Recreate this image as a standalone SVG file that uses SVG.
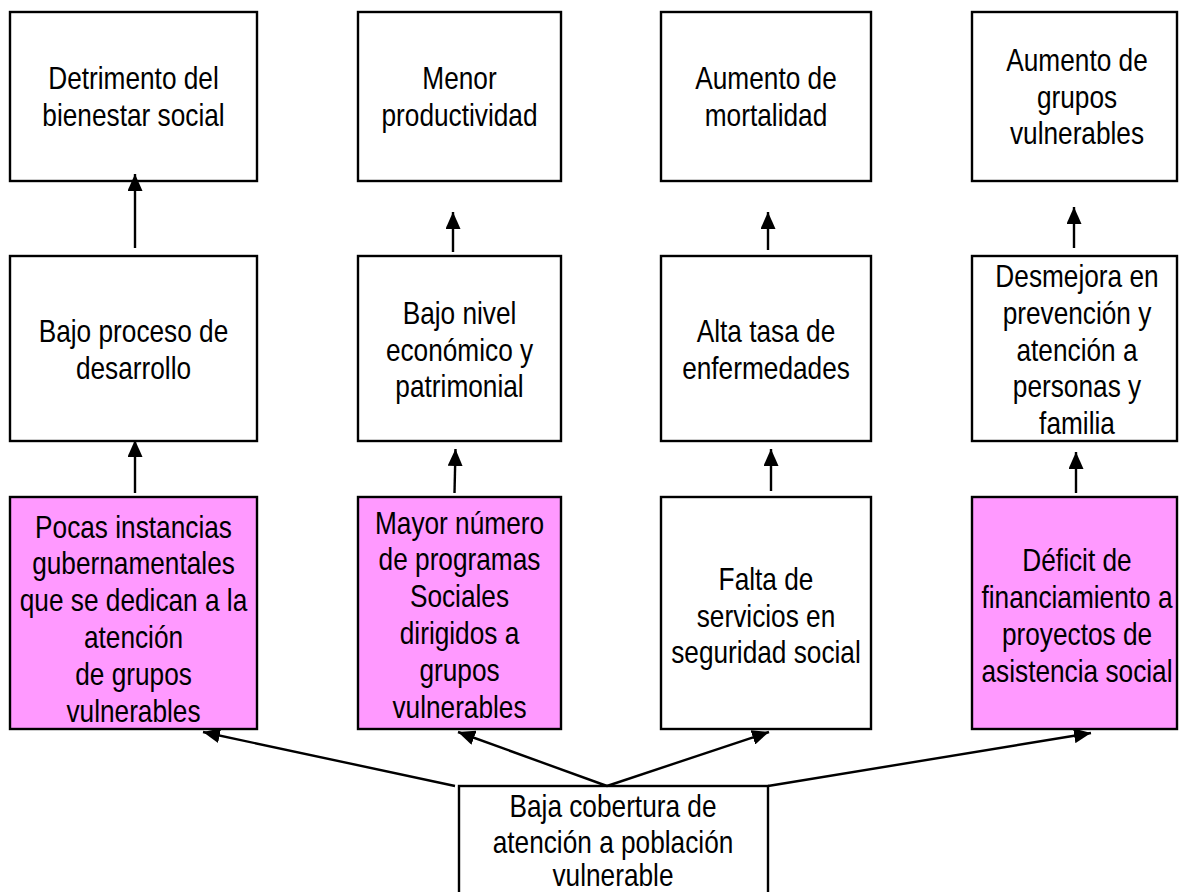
<svg xmlns="http://www.w3.org/2000/svg" width="1179" height="892" viewBox="0 0 1179 892">
<style>
.box{fill:#ffffff;stroke:#000000;stroke-width:2.4}
.pink{fill:#ff99ff;stroke:#000000;stroke-width:2.4}
.t{font-family:"Liberation Sans",Arial,sans-serif;font-size:32px;fill:#000000;text-anchor:middle}
.c{fill:none;stroke:#000000;stroke-width:2.4}
</style>
<defs>
<marker id="ah" markerUnits="userSpaceOnUse" markerWidth="17" markerHeight="15" refX="17" refY="7.5" orient="auto">
<path d="M0,0 L17,7.5 L0,15 z" fill="#000000"/>
</marker>
</defs>
<rect width="1179" height="892" fill="#ffffff"/>

<g id="n-detrimento">
<rect class="box" x="10" y="12" width="247" height="169"/>
<text class="t" transform="translate(133.5 89) scale(0.82 1)">Detrimento del</text>
<text class="t" transform="translate(133.5 126) scale(0.82 1)">bienestar social</text>
</g>
<g id="n-menor">
<rect class="box" x="358" y="12" width="203" height="169"/>
<text class="t" transform="translate(459.5 89) scale(0.82 1)">Menor</text>
<text class="t" transform="translate(459.5 126) scale(0.82 1)">productividad</text>
</g>
<g id="n-mortalidad">
<rect class="box" x="661" y="12" width="210" height="169"/>
<text class="t" transform="translate(766 89) scale(0.82 1)">Aumento de</text>
<text class="t" transform="translate(766 126) scale(0.82 1)">mortalidad</text>
</g>
<g id="n-aumento-grupos">
<rect class="box" x="972" y="12" width="205" height="169"/>
<text class="t" transform="translate(1077 71) scale(0.82 1)">Aumento de</text>
<text class="t" transform="translate(1077 107.5) scale(0.82 1)">grupos</text>
<text class="t" transform="translate(1077 144) scale(0.82 1)">vulnerables</text>
</g>

<g id="n-bajo-proceso">
<rect class="box" x="10" y="256" width="247" height="185"/>
<text class="t" transform="translate(133.5 342) scale(0.82 1)">Bajo proceso de</text>
<text class="t" transform="translate(133.5 379) scale(0.82 1)">desarrollo</text>
</g>
<g id="n-bajo-nivel">
<rect class="box" x="358" y="256" width="203" height="185"/>
<text class="t" transform="translate(459.5 324) scale(0.82 1)">Bajo nivel</text>
<text class="t" transform="translate(459.5 360.5) scale(0.82 1)">económico y</text>
<text class="t" transform="translate(459.5 397) scale(0.82 1)">patrimonial</text>
</g>
<g id="n-alta-tasa">
<rect class="box" x="661" y="256" width="210" height="185"/>
<text class="t" transform="translate(766 342) scale(0.82 1)">Alta tasa de</text>
<text class="t" transform="translate(766 379) scale(0.82 1)">enfermedades</text>
</g>
<g id="n-desmejora">
<rect class="box" x="972" y="256" width="205" height="185"/>
<text class="t" transform="translate(1077 287) scale(0.82 1)">Desmejora en</text>
<text class="t" transform="translate(1077 324) scale(0.82 1)">prevención y</text>
<text class="t" transform="translate(1077 360.5) scale(0.82 1)">atención a</text>
<text class="t" transform="translate(1077 397) scale(0.82 1)">personas y</text>
<text class="t" transform="translate(1077 434) scale(0.82 1)">familia</text>
</g>

<g id="n-pocas-instancias">
<rect class="pink" x="10" y="497" width="247" height="232"/>
<text class="t" transform="translate(133.5 537.5) scale(0.82 1)">Pocas instancias</text>
<text class="t" transform="translate(133.5 574.3) scale(0.82 1)">gubernamentales</text>
<text class="t" transform="translate(133.5 611.1) scale(0.82 1)">que se dedican a la</text>
<text class="t" transform="translate(133.5 647.9) scale(0.82 1)">atención</text>
<text class="t" transform="translate(133.5 684.7) scale(0.82 1)">de grupos</text>
<text class="t" transform="translate(133.5 721.5) scale(0.82 1)">vulnerables</text>
</g>
<g id="n-mayor-numero">
<rect class="pink" x="358" y="497" width="203" height="232"/>
<text class="t" transform="translate(459.5 533.5) scale(0.82 1)">Mayor número</text>
<text class="t" transform="translate(459.5 570.3) scale(0.82 1)">de programas</text>
<text class="t" transform="translate(459.5 607.1) scale(0.82 1)">Sociales</text>
<text class="t" transform="translate(459.5 643.9) scale(0.82 1)">dirigidos a</text>
<text class="t" transform="translate(459.5 680.7) scale(0.82 1)">grupos</text>
<text class="t" transform="translate(459.5 717.5) scale(0.82 1)">vulnerables</text>
</g>
<g id="n-falta-servicios">
<rect class="box" x="661" y="497" width="210" height="232"/>
<text class="t" transform="translate(766 589.7) scale(0.82 1)">Falta de</text>
<text class="t" transform="translate(766 626.5) scale(0.82 1)">servicios en</text>
<text class="t" transform="translate(766 663.3) scale(0.82 1)">seguridad social</text>
</g>
<g id="n-deficit">
<rect class="pink" x="972" y="497" width="205" height="232"/>
<text class="t" transform="translate(1077 571.3) scale(0.82 1)">Déficit de</text>
<text class="t" transform="translate(1077 608.1) scale(0.82 1)">financiamiento a</text>
<text class="t" transform="translate(1077 644.9) scale(0.82 1)">proyectos de</text>
<text class="t" transform="translate(1077 681.7) scale(0.82 1)">asistencia social</text>
</g>

<g id="n-baja-cobertura">
<rect class="box" x="459" y="786" width="309" height="130"/>
<text class="t" transform="translate(613 817) scale(0.82 1)">Baja cobertura de</text>
<text class="t" transform="translate(613 853) scale(0.82 1)">atención a población</text>
<text class="t" transform="translate(613 886) scale(0.82 1)">vulnerable</text>
</g>

<g id="connectors">
<path class="c" d="M135,248 L135,174" marker-end="url(#ah)"/>
<path class="c" d="M453,252 L453,212" marker-end="url(#ah)"/>
<path class="c" d="M768,250 L768,212" marker-end="url(#ah)"/>
<path class="c" d="M1074,248 L1074,207" marker-end="url(#ah)"/>
<path class="c" d="M135,493 L135,440" marker-end="url(#ah)"/>
<path class="c" d="M454.5,493 L455.5,449" marker-end="url(#ah)"/>
<path class="c" d="M771,491 L771,449" marker-end="url(#ah)"/>
<path class="c" d="M1076,493 L1076,452" marker-end="url(#ah)"/>
<path class="c" d="M455,786 L203,732" marker-end="url(#ah)"/>
<path class="c" d="M607,786 L458,732" marker-end="url(#ah)"/>
<path class="c" d="M607,786 L769,732" marker-end="url(#ah)"/>
<path class="c" d="M768,786 L1091,733" marker-end="url(#ah)"/>
</g>
</svg>
